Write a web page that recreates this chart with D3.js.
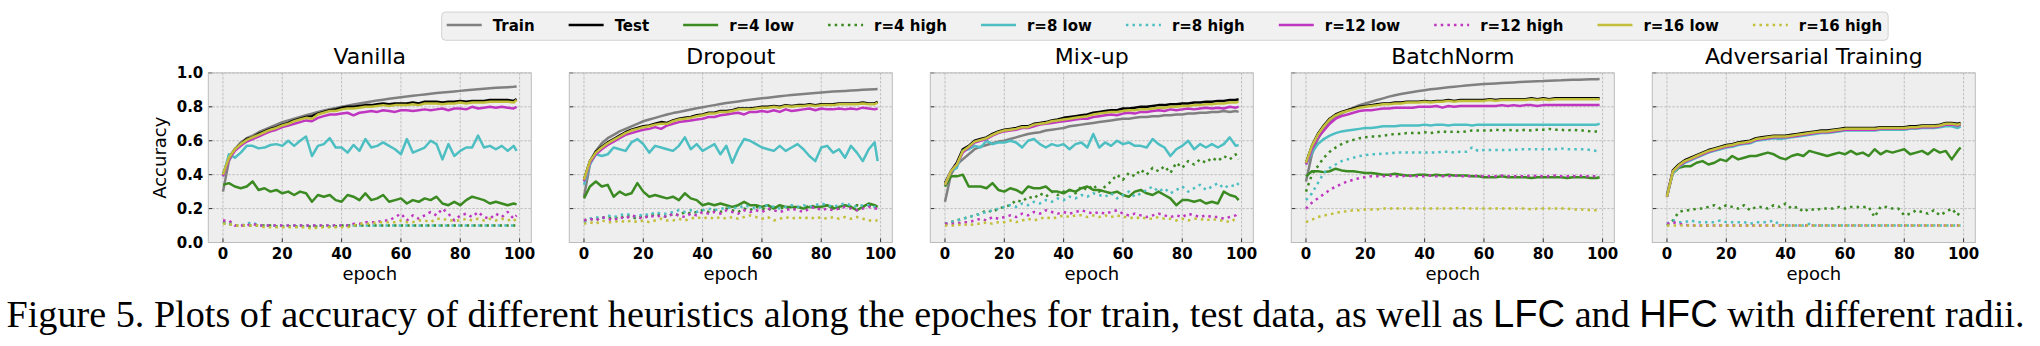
<!DOCTYPE html>
<html>
<head>
<meta charset="utf-8">
<script src="https://cdn.jsdelivr.net/npm/d3@7"></script>
<style>
  body { margin: 0; background: #fff; }
  svg text { font-family: "DejaVu Sans", sans-serif; }
</style>
</head>
<body>
<svg id="fig"></svg>
<script>
const WIDTH = 2040;
const HEIGHT = 346;

// epochs at which accuracy was sampled
const epochs = [0, 2, 4, 6, 8, 10, 12, 14, 16, 18,
  20, 22, 24, 26, 28, 30, 32, 34, 36, 38,
  40, 42, 44, 46, 48, 50, 52, 54, 56, 58,
  60, 62, 64, 66, 68, 70, 72, 74, 76, 78,
  80, 82, 84, 86, 88, 90, 92, 94, 96, 98, 99];

const panelTitles = ['Vanilla', 'Dropout', 'Mix-up', 'BatchNorm', 'Adversarial Training'];
const seriesNames = ['Train', 'Test', 'r=4 low', 'r=4 high', 'r=8 low', 'r=8 high',
  'r=12 low', 'r=12 high', 'r=16 low', 'r=16 high'];
const xTicks = [0, 20, 40, 60, 80, 100];
const yTicks = [0, 20, 40, 60, 80, 100]; // accuracy, percent

// ---- Vanilla (accuracy in %) ----
const vanillaTrain = [30, 48, 55, 59, 61.5, 63, 65, 66.5, 68, 69.5,
  71, 72, 73, 74, 75, 76, 77, 77.8, 78.6, 79.3,
  80, 80.7, 81.4, 82, 82.6, 83.2, 83.7, 84.2, 84.7, 85.2,
  85.7, 86.1, 86.5, 86.9, 87.3, 87.7, 88.1, 88.5, 88.8, 89.1,
  89.4, 89.7, 90, 90.3, 90.6, 90.9, 91.2, 91.4, 91.6, 91.8, 92];
const vanillaTest = [40, 50, 55, 58, 61, 62, 64, 65.5, 67, 68,
  69.5, 70.5, 72, 73, 74, 74.5, 76, 77, 78, 78.5,
  79.5, 80, 80, 80.5, 81, 81, 81.5, 82, 81.5, 82,
  82, 82, 82.5, 82, 83, 83, 83, 82.5, 83, 83,
  83.5, 83, 83.5, 83.5, 83.5, 84, 84, 84, 84, 83.5, 84.5];
const vanillaLow4 = [34, 35, 33, 32, 33, 36, 31, 32, 30, 31,
  29, 30, 28, 30, 29, 24, 28, 27, 28, 25,
  24, 28, 27, 25, 29, 25, 26, 28, 24, 25,
  26, 23, 25, 24, 26, 25, 27, 23, 22, 24,
  22, 25, 27, 26, 25, 23, 24, 23, 22, 23, 22.5];
const vanillaHigh4 = [12, 11, 10, 10, 10, 10, 10, 10, 10, 9.5,
  9.5, 9.5, 9.5, 9.5, 9.5, 9.5, 9.5, 9.5, 9.5, 9.5,
  10, 10, 10, 10, 10, 10, 10, 10, 10, 10,
  10, 10, 10, 10, 10, 10, 10, 10, 10, 10,
  10, 10, 10, 10, 10, 10, 10, 10, 10, 10, 10];
const vanillaLow8 = [39, 52, 50, 53, 57, 57, 55.5, 56, 57.5, 58,
  57, 60, 57, 60, 62.5, 51, 57, 58, 61.5, 56,
  56, 53, 57.5, 54, 61, 56, 57, 59, 57, 55,
  52, 61, 53, 54.5, 56, 60, 58, 49, 58, 51,
  54, 56, 56, 63, 56, 57, 55, 57, 54, 57, 54];
const vanillaHigh8 = [11, 12, 10, 10, 11, 12, 10, 10, 10, 10,
  10, 10, 10, 10, 10, 10, 10, 10, 10, 10,
  10, 10, 10, 10, 10, 10, 10, 10, 10, 10,
  10, 10, 10, 10, 10, 10, 10, 10, 10, 10,
  10, 10, 10, 10, 10, 10, 10, 10, 10, 10, 10];
const vanillaLow12 = [39, 49, 54, 57, 59.5, 61, 62.5, 64, 65.5, 66.5,
  68, 69, 70, 71, 72, 71.5, 73.5, 74.5, 75.5, 75.5,
  76, 76.5, 75, 76.5, 77, 77.5, 77, 78, 77.5, 77,
  78, 78, 77.5, 78, 78.5, 78, 78.5, 79, 78, 79,
  79, 78.5, 80, 79, 79.5, 80, 79.5, 80, 79.5, 79, 80];
const vanillaHigh12 = [13, 13, 10, 10, 10, 11, 10, 10, 10, 10,
  10, 10, 10, 10, 10, 10, 10, 10, 10, 10,
  10, 10, 11, 11, 12, 12, 12, 13, 13, 15,
  17, 13, 16, 14, 16, 18, 16, 20, 17, 13,
  16, 17, 15, 18, 15, 14, 17, 15, 18, 14, 16];
const vanillaLow16 = [40, 50, 55, 58, 60.5, 62, 63.5, 65, 66.5, 67.5,
  69, 70, 71.5, 72.5, 73.5, 73, 75.5, 76.5, 77.5, 77.5,
  78.5, 79, 79, 79.5, 80, 80, 80.5, 81, 80.5, 81,
  81, 81, 81.5, 81, 82, 82, 82, 81.5, 82, 82,
  82.5, 82, 82.5, 82.5, 82.5, 83, 83, 83, 83, 82.5, 84];
const vanillaHigh16 = [11, 11, 10, 10, 10, 10, 10, 9, 9, 9,
  9, 9, 9, 9, 9, 8, 9, 9, 9, 9,
  9, 9, 10, 11, 11, 11, 12, 12, 12, 12,
  13, 12, 12, 13, 13, 12, 14, 14, 13, 13,
  13, 14, 13, 14, 13, 14, 13, 14, 13, 14, 12];

// ---- Dropout ----
const dropoutTrain = [27, 46, 54, 58.5, 61.5, 63.5, 65.5, 67, 68.5, 70,
  71.5, 72.5, 73.5, 74.5, 75.5, 76.3, 77, 77.7, 78.4, 79.1,
  79.8, 80.4, 81, 81.6, 82.2, 82.7, 83.2, 83.7, 84.2, 84.6,
  85, 85.4, 85.8, 86.2, 86.6, 86.9, 87.2, 87.5, 87.8, 88.1,
  88.4, 88.7, 89, 89.2, 89.4, 89.6, 89.8, 90, 90.2, 90.4, 90.5];
const dropoutTest = [37, 48, 53.5, 56.5, 59, 61, 63, 65, 66.5, 67.5,
  68.5, 69, 70, 71, 70.5, 72, 73, 73.5, 74, 75,
  75.5, 76.5, 76.5, 77.5, 77.5, 78, 79, 79, 79, 79.5,
  80, 80, 80.5, 80, 81, 80.5, 81, 81, 81.5, 81,
  81.5, 81.5, 81.5, 82, 82, 82, 82, 82.5, 82, 82, 83];
const dropoutLow4 = [26, 33, 36, 33, 34, 27, 30, 28, 29, 35,
  30, 27, 28, 27, 26, 27, 25, 29, 26, 25,
  22, 23, 22, 23, 22, 21, 22, 24, 22, 22,
  21, 22, 20, 22, 21, 21, 21, 20, 21, 21,
  21, 22, 20, 21, 22, 21, 19, 21, 23, 22, 21];
const dropoutHigh4 = [13, 14, 13, 15, 14, 15, 14, 16, 15, 14,
  16, 15, 17, 16, 15, 17, 16, 18, 17, 18,
  19, 18, 19, 18, 20, 19, 18, 20, 19, 21,
  20, 19, 21, 20, 21, 20, 21, 20, 22, 21,
  21, 22, 21, 20, 22, 21, 22, 21, 22, 21, 20];
const dropoutLow8 = [34, 46, 52, 51, 52, 56, 55, 54, 59, 61,
  58, 53, 57, 56, 55, 54, 57, 62, 55, 58,
  54, 56, 58, 52, 57, 47, 55, 61, 60, 58,
  56, 55, 54, 57, 54, 56, 58, 55, 51, 48,
  56, 57, 53, 55, 50, 57, 53, 48, 55, 59, 48];
const dropoutHigh8 = [12, 14, 15, 14, 16, 15, 16, 17, 16, 15,
  17, 16, 18, 17, 17, 18, 19, 18, 19, 18,
  19, 20, 19, 20, 20, 21, 20, 22, 21, 20,
  21, 22, 21, 20, 21, 22, 21, 22, 21, 22,
  23, 22, 21, 22, 23, 22, 21, 22, 22, 21, 21];
const dropoutLow12 = [36, 47, 52, 55, 57.5, 59.5, 61.5, 63.5, 64.5, 65.5,
  66.5, 67, 68, 67, 69, 70, 71, 71.5, 72, 72.5,
  73, 74, 74, 75, 75.5, 76, 76.5, 75.5, 77, 77,
  77.5, 77, 78, 77, 78.5, 77.5, 78, 78.5, 79, 78,
  79, 78.5, 78.5, 79, 78.5, 79, 78.5, 79.5, 79, 78.5, 79];
const dropoutHigh12 = [13, 14, 13, 15, 14, 13, 15, 14, 16, 15,
  14, 16, 15, 16, 15, 17, 16, 15, 17, 16,
  18, 17, 18, 17, 19, 18, 17, 19, 18, 19,
  18, 20, 19, 18, 19, 20, 19, 18, 20, 21,
  19, 20, 19, 20, 21, 20, 19, 20, 21, 20, 20];
const dropoutLow16 = [37, 48, 53, 56, 58.5, 60.5, 62.5, 64.5, 66, 67,
  68, 68.5, 69.5, 70, 70, 71.5, 72.5, 73, 73.5, 74.5,
  75, 76, 76, 77, 77, 77.5, 78.5, 78.5, 78.5, 79,
  79.5, 79.5, 80, 79.5, 80.5, 80, 80.5, 80.5, 81, 80.5,
  81, 81, 81, 81.5, 81.5, 81.5, 81.5, 82, 81.5, 81.5, 82.5];
const dropoutHigh16 = [11, 12, 11, 13, 12, 12, 13, 12, 13, 12,
  13, 12, 13, 14, 13, 13, 14, 13, 14, 15,
  14, 15, 14, 15, 14, 15, 14, 15, 16, 15,
  14, 15, 13, 14, 15, 14, 15, 14, 15, 14,
  15, 14, 15, 14, 15, 14, 15, 14, 13, 13, 13];

// ---- Mix-up ----
const mixupTrain = [24, 40, 46, 49, 52, 55, 56.5, 57.5, 58.5, 59.5,
  60, 61, 62, 63, 64, 64.5, 65, 66, 66.5, 67,
  67.5, 68.5, 69, 69.5, 70, 70.5, 71, 71.5, 72, 72.5,
  73, 73, 73.5, 74, 74, 74.5, 74.5, 75, 75, 75.5,
  75.5, 76, 76, 76.5, 76.5, 77, 77, 77.5, 77, 77.5, 77];
const mixupTest = [35, 42, 47, 55, 57, 60, 61, 62, 64, 65.5,
  66.5, 67, 67.5, 68.5, 68.5, 70, 70.5, 71, 72, 72.5,
  73.5, 74, 74.5, 75, 75.5, 76.5, 77, 77.5, 78, 78,
  79, 79, 79.5, 80, 80, 80.5, 81, 81, 81.5, 81.5,
  82, 82, 82.5, 82.5, 83, 83, 83.5, 83.5, 84, 84, 84.5];
const mixupLow4 = [33, 39, 39, 40, 33, 33, 33, 32, 35, 31,
  30, 32, 31, 29, 33, 32, 32, 33, 30, 30,
  29, 31, 30, 32, 33, 31, 31, 30, 29, 30,
  28, 27, 30, 31, 29, 28, 30, 28, 26, 22,
  25, 25, 24, 25, 23, 24, 23, 30, 28, 27, 25];
const mixupHigh4 = [11, 12, 13, 14, 15, 16, 17, 19, 18, 20,
  21, 22, 25, 24, 27, 26, 29, 27, 30, 28,
  30, 31, 29, 33, 31, 34, 30, 33, 36, 40,
  37, 41, 39, 43, 40, 44, 42, 45, 41, 47,
  44, 48, 46, 49, 47, 50, 48, 51, 49, 52, 49];
const mixupLow8 = [34, 42, 44, 54, 55, 57, 56, 60, 58, 59,
  59, 60, 59, 56, 60, 61, 58, 56, 58, 57,
  58, 55, 58, 59, 56, 64, 56, 59, 57, 60,
  58, 59, 57, 57, 56, 61, 58, 56, 51, 55,
  57, 60, 55, 58, 56, 58, 56, 58, 62, 57, 57.5];
const mixupHigh8 = [11, 12, 13, 14, 15, 16, 17, 18, 19, 20,
  21, 22, 21, 23, 22, 24, 23, 25, 24, 26,
  25, 27, 26, 28, 27, 29, 28, 27, 29, 26,
  28, 30, 27, 29, 31, 33, 30, 32, 29, 31,
  33, 30, 32, 34, 31, 33, 35, 32, 34, 33, 35];
const mixupLow12 = [34, 42, 46, 53, 56, 59, 60, 61, 63, 64.5,
  65.5, 66, 66.5, 67.5, 67.5, 68.5, 69.5, 70, 70.5, 71,
  71.5, 72, 72.5, 73, 73, 74, 74.5, 75, 75.5, 75,
  76, 76.5, 76, 77, 77, 77.5, 78, 77.5, 78.5, 78,
  78.5, 79, 78.5, 79, 79.5, 79, 79.5, 79, 80, 79.5, 80];
const mixupHigh12 = [11, 11, 11, 12, 12, 13, 14, 13, 15, 14,
  15, 16, 15, 17, 16, 18, 17, 19, 18, 17,
  18, 17, 18, 19, 18, 17, 18, 17, 18, 19,
  17, 16, 17, 16, 15, 16, 17, 16, 15, 16,
  15, 17, 16, 15, 16, 15, 15, 14, 15, 16, 18];
const mixupLow16 = [34, 42, 46, 54, 56.5, 59.5, 60.5, 61.5, 63.5, 65,
  66, 66.5, 67, 68, 68, 69.5, 70, 70.5, 71.5, 72,
  72.5, 73, 73.5, 74, 74.5, 75.5, 76, 76.5, 77, 77,
  77.5, 78, 78, 78.5, 78.5, 79, 79.5, 79.5, 80, 80,
  80.5, 80.5, 81, 81, 81.5, 81.5, 82, 82, 82.5, 82.5, 83];
const mixupHigh16 = [10, 10, 10, 11, 10, 11, 11, 12, 11, 12,
  12, 13, 12, 13, 14, 13, 14, 15, 14, 15,
  16, 15, 16, 16, 15, 16, 15, 16, 15, 16,
  15, 15, 14, 15, 14, 14, 15, 14, 14, 13,
  14, 13, 14, 14, 13, 14, 13, 13, 12, 14, 14];

// ---- BatchNorm ----
const batchnormTrain = [36, 52, 61, 67, 71, 74, 76, 78, 79.5, 81,
  82, 83, 84, 85, 86, 86.8, 87.5, 88.2, 88.8, 89.3,
  89.8, 90.3, 90.7, 91.1, 91.5, 91.9, 92.2, 92.5, 92.8, 93.1,
  93.4, 93.6, 93.8, 94, 94.2, 94.4, 94.6, 94.8, 95, 95.1,
  95.2, 95.4, 95.5, 95.6, 95.8, 95.9, 96, 96.1, 96.2, 96.3, 96.4];
const batchnormTest = [47, 57, 64, 69, 73, 75.5, 77, 78, 79, 80,
  80.5, 81, 81.5, 82, 82, 82.5, 82.5, 83, 83, 83,
  83.5, 83, 83.5, 83.5, 84, 83.5, 84, 84, 84, 84,
  84, 84.5, 84, 84.5, 84.5, 84.5, 84.5, 84.5, 85, 84.5,
  85, 84.5, 85, 85, 85, 85, 85, 85, 85, 85, 85];
const batchnormLow4 = [39, 42, 42, 41.5, 42, 43.5, 42.5, 42, 42, 41.5,
  41, 41, 40.5, 40, 40, 40.5, 40, 39.5, 39.5, 40,
  40, 39.5, 40, 39.5, 40, 39.5, 39.5, 39.5, 39, 39,
  38.5, 38.5, 38.5, 39, 38.5, 38.5, 38.5, 38.5, 38, 38.5,
  38.5, 38.5, 38.5, 38.5, 38, 38.5, 38.5, 38.5, 38, 38, 38.5];
const batchnormHigh4 = [30, 40, 45, 50, 53.5, 56, 58, 59.5, 60.5, 61.5,
  62, 62.5, 62.5, 63, 63.5, 64, 64, 64.5, 64.5, 64.5,
  65, 64.5, 65, 65.5, 65, 65.5, 65, 65.5, 66, 66,
  66, 66, 66.5, 66, 66.5, 66, 66, 66.5, 66, 66.5,
  66.5, 67, 66.5, 66.5, 66, 66.5, 66, 66, 65.5, 65.5, 65.5];
const batchnormLow8 = [46, 53, 58, 61, 63, 64.5, 65.5, 66, 66.5, 67,
  67.5, 67.5, 68, 68.5, 68.5, 68.5, 69, 69, 69, 69,
  69.5, 69, 69.5, 69.5, 69, 69.5, 69.5, 69.5, 69, 69.5,
  69.5, 69.5, 69.5, 69.5, 69.5, 69.5, 69.5, 69.5, 69.5, 69.5,
  69.5, 69.5, 69.5, 69.5, 69.5, 69.5, 69.5, 69.5, 69.5, 69.5, 70];
const batchnormHigh8 = [25, 29, 35, 41, 44, 46, 48, 49, 50, 51,
  51.5, 52, 52, 52.5, 52.5, 53, 53, 53, 53, 53,
  53, 53, 53, 53.5, 53.5, 53, 53.5, 53.5, 56, 54,
  54.5, 54.5, 54.5, 54.5, 54.5, 54.5, 55, 55, 55, 55,
  55, 55, 55, 55.5, 55, 55, 55, 55, 54.5, 54, 53.5];
const batchnormLow12 = [46, 55, 62, 66, 70, 73, 74.5, 75.5, 76.5, 77.5,
  78, 78, 78.5, 79, 79, 79.5, 79.5, 79.5, 79.5, 80,
  80, 80, 80.5, 79.5, 80.5, 80, 80.5, 80.5, 80.5, 80.5,
  80.5, 80.5, 80.5, 81, 80.5, 81, 80.5, 81, 81, 80.5,
  81, 81, 81, 81, 81, 81, 81, 81, 81, 81, 81];
const batchnormHigh12 = [20, 23.5, 26, 28.5, 31, 33, 34.5, 36, 37, 38,
  38.5, 39, 39, 39, 39.5, 39, 39, 39.5, 39, 39,
  39, 39.5, 39, 39, 39, 39.5, 39, 39, 39, 39.5,
  39, 39, 39, 39.5, 39, 39, 39, 39, 39.5, 39,
  39, 39, 39.5, 39, 39, 39, 39.5, 39, 39, 39, 39];
const batchnormLow16 = [47, 57, 63.5, 68.5, 72.5, 75, 76.5, 77.5, 78.5, 79.5,
  80, 80.5, 81, 81.5, 81.5, 82, 82, 82.5, 82.5, 82.5,
  83, 82.5, 83, 83, 83.5, 83, 83.5, 83.5, 83.5, 83.5,
  83.5, 84, 83.5, 84, 84, 84, 84, 84, 84.5, 84,
  84.5, 84, 84.5, 84.5, 84.5, 84.5, 84.5, 84.5, 84.5, 84.5, 84.5];
const batchnormHigh16 = [12, 13.5, 15, 16, 16.5, 17.5, 18, 18.5, 19, 19,
  19.5, 19.5, 19.5, 20, 20, 20, 20, 20, 20, 20,
  20, 20, 20, 20, 20, 20, 20.5, 20, 20, 20,
  20, 20, 20, 20, 20, 20, 20, 20, 19.5, 20,
  20, 20, 20, 20, 20, 19.5, 19.5, 19.5, 19, 19, 18];

// ---- Adversarial Training ----
const advTrain = [27, 42, 45, 47.5, 49, 50.5, 52, 53.5, 54.5, 55.5,
  56.5, 57, 58, 58.5, 59, 60.5, 61, 61.5, 62, 62,
  62, 62.5, 63, 63.5, 64, 64.5, 65, 65, 65.5, 66,
  66.5, 66.5, 66.5, 66.5, 66.5, 66.5, 67, 67, 67, 67,
  67, 67.5, 67.5, 68, 68, 68, 68.5, 69.5, 69.5, 69, 69.5];
const advTest = [27.5, 42.5, 46, 48.5, 50, 51.5, 53, 54.5, 55.5, 56.5,
  57.5, 58, 59, 59.5, 60, 61.5, 62, 62.5, 63, 63,
  63, 63.5, 64, 64.5, 65, 65.5, 66, 66, 66.5, 67,
  67.5, 67.5, 67.5, 67.5, 67.5, 67.5, 68, 68, 68, 68,
  68, 68.5, 68.5, 69, 69, 69, 69.5, 70.5, 70.5, 70, 70.5];
const advLow4 = [28, 41, 44, 45, 45, 47, 48, 46, 47, 49,
  48, 51, 49, 50, 51, 51, 52, 53, 52, 50,
  49, 51, 52, 51, 54, 53, 52, 51, 52, 53,
  52, 54, 52, 53, 51, 55, 52, 54, 53, 54,
  55, 52, 53, 54, 52, 55, 53, 54, 49, 54, 56];
const advHigh4 = [10, 13, 18, 19, 19, 20, 20, 21, 22, 20,
  22, 21, 20, 22, 19, 21, 21, 20, 22, 21,
  23, 20, 21, 18, 20, 19, 20, 20, 20, 21,
  20, 21, 21, 21, 21, 15, 21, 21, 20, 20,
  16, 17, 19, 18, 17, 19, 16, 18, 20, 16, 19];
const advLow8 = [27, 41, 44.5, 47, 48.5, 50, 51.5, 53, 54, 55,
  56, 56.5, 57.5, 58, 58.5, 60, 60.5, 61, 61.5, 61,
  61.5, 62, 62.5, 63, 63.5, 64, 64.5, 64.5, 65, 65.5,
  66, 66, 66, 66, 66, 66, 66.5, 66.5, 66.5, 66.5,
  66.5, 67, 67, 67.5, 67.5, 67.5, 68, 68.5, 68.5, 67.5, 68.5];
const advHigh8 = [11, 13, 12, 12, 13, 12, 12, 12, 12, 13,
  12, 12, 12, 12, 11, 12, 12, 12, 13, 10.5,
  10, 10, 10, 10, 11, 10, 10, 10, 10, 10,
  10, 10, 10, 10, 10, 10, 10, 10, 10, 10,
  10, 10, 10, 10, 10, 10, 10, 10, 10, 10, 10];
const advLow12 = [27, 42, 45, 47.5, 49, 50.5, 52, 53.5, 54.5, 55.5,
  56.5, 57, 58, 58.5, 59, 60.5, 61, 61.5, 62, 62,
  62, 62.5, 63, 63.5, 64, 64.5, 65, 65, 65.5, 66,
  66.5, 66.5, 66.5, 66.5, 66.5, 66.5, 67, 67, 67, 67,
  67, 67.5, 67.5, 68, 68, 68, 68.5, 69.5, 69.5, 69, 69.5];
const advHigh12 = [11, 12, 11, 10.5, 10, 10, 10, 10, 10, 10,
  10, 10, 10, 10, 10, 10, 10, 10, 10, 10,
  10, 10, 10, 10, 10, 10, 10, 10, 10, 10,
  10, 10, 10, 10, 10, 10, 10, 10, 10, 10,
  10, 10, 10, 10, 10, 10, 10, 10, 10, 10, 10];
const advLow16 = [27, 42, 45.5, 48, 49.5, 51, 52.5, 54, 55, 56,
  57, 57.5, 58.5, 59, 59.5, 61, 61.5, 62, 62.5, 62.5,
  62.5, 63, 63.5, 64, 64.5, 65, 65.5, 65.5, 66, 66.5,
  67, 67, 67, 67, 67, 67, 67.5, 67.5, 67.5, 67.5,
  67.5, 68, 68, 68.5, 68.5, 68.5, 69, 70, 70, 69.5, 70];
const advHigh16 = [10, 10, 10, 10, 10, 10, 10, 10, 10, 10,
  10, 10, 10, 10, 10, 10, 10, 10, 10, 10,
  10, 10, 10, 10, 10, 10, 10, 10, 10, 10,
  10, 10, 10, 10, 10, 10, 10, 10, 10, 10,
  10, 10, 10, 10, 10, 10, 10, 10, 10, 10, 10];

// series per panel, in the order of seriesNames
const panelSeries = [
  [vanillaTrain, vanillaTest, vanillaLow4, vanillaHigh4, vanillaLow8, vanillaHigh8,
    vanillaLow12, vanillaHigh12, vanillaLow16, vanillaHigh16],
  [dropoutTrain, dropoutTest, dropoutLow4, dropoutHigh4, dropoutLow8, dropoutHigh8,
    dropoutLow12, dropoutHigh12, dropoutLow16, dropoutHigh16],
  [mixupTrain, mixupTest, mixupLow4, mixupHigh4, mixupLow8, mixupHigh8,
    mixupLow12, mixupHigh12, mixupLow16, mixupHigh16],
  [batchnormTrain, batchnormTest, batchnormLow4, batchnormHigh4, batchnormLow8, batchnormHigh8,
    batchnormLow12, batchnormHigh12, batchnormLow16, batchnormHigh16],
  [advTrain, advTest, advLow4, advHigh4, advLow8, advHigh8,
    advLow12, advHigh12, advLow16, advHigh16]
];

// line styles
const seriesColors = ['#808080', '#000000', '#3b8a22', '#3b8a22', '#4dbfc2', '#4dbfc2',
  '#bf36c0', '#bf36c0', '#c2bf3a', '#c2bf3a'];
const seriesDotted = [false, false, false, true, false, true, false, true, false, true];
const DOTS = '2.5,4.1';

const svg = d3.select('#fig').attr('width', WIDTH).attr('height', HEIGHT);

const PANEL_LEFT = 208.3;
const PANEL_STEP = 361;
const PANEL_W = 323;
const PANEL_TOP = 72.9;
const PANEL_H = 169.6;

const x = d3.scaleLinear().domain([-4.95, 103.95]).range([0, PANEL_W]);
const y = d3.scaleLinear().domain([0, 100]).range([PANEL_H, 0]);
const line = d3.line()
  .x((d, i) => x(epochs[i]))
  .y(d => y(d));

panelTitles.forEach((title, p) => {
  const g = svg.append('g')
    .attr('transform', `translate(${PANEL_LEFT + p * PANEL_STEP},${PANEL_TOP})`);

  g.append('rect')
    .attr('width', PANEL_W).attr('height', PANEL_H)
    .attr('fill', '#eeeeee');

  // dashed grid
  g.selectAll('.gx').data(xTicks).enter().append('line')
    .attr('x1', d => x(d)).attr('x2', d => x(d))
    .attr('y1', 0).attr('y2', PANEL_H)
    .attr('stroke', '#b2b2b2').attr('stroke-width', 0.8)
    .attr('stroke-dasharray', '2.5,1.5');
  g.selectAll('.gy').data(yTicks).enter().append('line')
    .attr('x1', 0).attr('x2', PANEL_W)
    .attr('y1', d => y(d)).attr('y2', d => y(d))
    .attr('stroke', '#b2b2b2').attr('stroke-width', 0.8)
    .attr('stroke-dasharray', '2.5,1.5');

  const clipId = 'clip' + p;
  g.append('clipPath').attr('id', clipId)
    .append('rect').attr('width', PANEL_W).attr('height', PANEL_H);

  const lines = g.append('g').attr('clip-path', `url(#${clipId})`);
  panelSeries[p].forEach((values, s) => {
    lines.append('path')
      .attr('d', line(values))
      .attr('fill', 'none')
      .attr('stroke', seriesColors[s])
      .attr('stroke-width', 2.5)
      .attr('stroke-linejoin', 'round')
      .attr('stroke-dasharray', seriesDotted[s] ? DOTS : null);
  });

  // inward ticks
  g.selectAll('.tx').data(xTicks).enter().append('line')
    .attr('x1', d => x(d)).attr('x2', d => x(d))
    .attr('y1', PANEL_H).attr('y2', PANEL_H - 4)
    .attr('stroke', '#333').attr('stroke-width', 1);
  g.selectAll('.ty').data(yTicks).enter().append('line')
    .attr('x1', 0).attr('x2', 4)
    .attr('y1', d => y(d)).attr('y2', d => y(d))
    .attr('stroke', '#333').attr('stroke-width', 1);

  g.append('rect')
    .attr('width', PANEL_W).attr('height', PANEL_H)
    .attr('fill', 'none').attr('stroke', '#bcbcbc').attr('stroke-width', 1);

  g.selectAll('.xl').data(xTicks).enter().append('text')
    .attr('x', d => x(d)).attr('y', PANEL_H + 17)
    .attr('text-anchor', 'middle')
    .style('font-size', '15px').style('font-weight', 'bold')
    .text(d => d);

  if (p === 0) {
    g.selectAll('.yl').data(yTicks).enter().append('text')
      .attr('x', -5).attr('y', d => y(d) + 5.4)
      .attr('text-anchor', 'end')
      .style('font-size', '15px').style('font-weight', 'bold')
      .text(d => (d / 100).toFixed(1));
    g.append('text')
      .attr('transform', `translate(-42,${PANEL_H / 2}) rotate(-90)`)
      .attr('text-anchor', 'middle')
      .style('font-size', '18px')
      .text('Accuracy');
  }

  g.append('text')
    .attr('x', PANEL_W / 2).attr('y', PANEL_H + 37.5)
    .attr('text-anchor', 'middle')
    .style('font-size', '18px')
    .text('epoch');

  g.append('text')
    .attr('x', PANEL_W / 2).attr('y', -8.6)
    .attr('text-anchor', 'middle')
    .style('font-size', '22px')
    .text(title);
});

// legend across the top
const legend = svg.append('g');
const legendBox = legend.append('rect')
  .attr('x', 441.7).attr('y', 12).attr('height', 28.3)
  .attr('rx', 4).attr('ry', 4)
  .attr('fill', '#f1f1f1').attr('stroke', '#d2d2d2').attr('stroke-width', 1);
let lx = 446.7;
seriesNames.forEach((name, s) => {
  legend.append('line')
    .attr('x1', lx).attr('x2', lx + 35)
    .attr('y1', 25).attr('y2', 25)
    .attr('stroke', seriesColors[s]).attr('stroke-width', 2.5)
    .attr('stroke-dasharray', seriesDotted[s] ? DOTS : null);
  const t = legend.append('text')
    .attr('x', lx + 46).attr('y', 30.8)
    .style('font-size', '15px').style('font-weight', 'bold')
    .text(name);
  const w = t.node().getComputedTextLength();
  lx += 46 + w + (s < seriesNames.length - 1 ? 34 : 0);
});
legendBox.attr('width', lx + 6 - 441.7);

// figure caption
const caption = svg.append('text')
  .attr('x', 6.5).attr('y', 326.7)
  .style('font-family', '"Liberation Serif", "Times New Roman", serif')
  .style('font-size', '32px');
const sans = '"Liberation Sans", Arial, sans-serif';
caption.append('tspan').text('Figure 5. Plots of accuracy of different heuristics along the epoches for train, test data, as well as ');
caption.append('tspan').style('font-family', sans).text('LFC');
caption.append('tspan').text(' and ');
caption.append('tspan').style('font-family', sans).text('HFC');
caption.append('tspan').text(' with different radii.');
const capW = caption.node().getComputedTextLength();
caption.style('font-size', (32 * 2018.5 / capW) + 'px');
</script>
</body>
</html>
